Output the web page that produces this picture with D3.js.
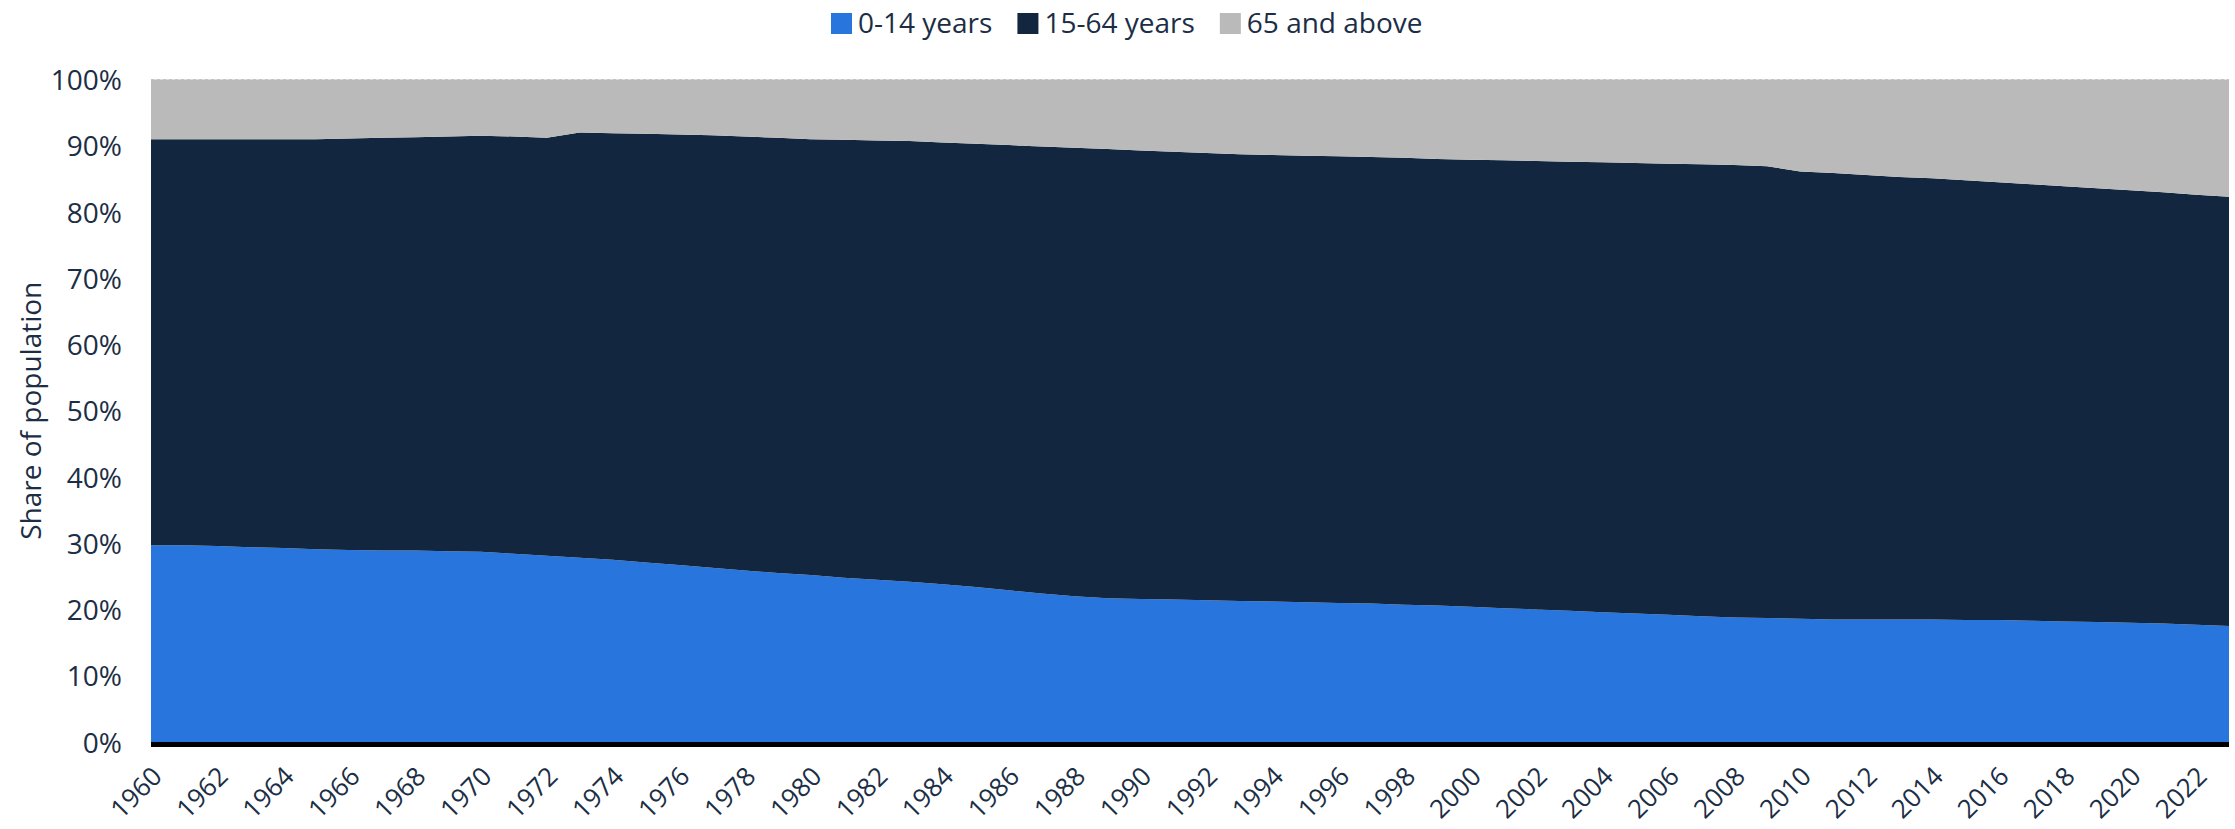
<!DOCTYPE html>
<html>
<head>
<meta charset="utf-8">
<script src="https://cdn.jsdelivr.net/npm/d3@7"></script>
<style>
  html, body { margin: 0; padding: 0; background: #ffffff; }
  svg text { font-family: "Open Sans", sans-serif; fill: #1b2e45; }
</style>
</head>
<body>
<svg id="chart" width="2235" height="829"></svg>
<script>
const years = d3.range(1960, 2024);
const age0to14 = [29.7, 29.7, 29.6, 29.4, 29.3, 29.1, 29.0, 28.9, 28.9, 28.8,
  28.7, 28.4, 28.1, 27.8, 27.5, 27.1, 26.7, 26.3, 25.9, 25.5,
  25.2, 24.8, 24.5, 24.2, 23.8, 23.4, 22.9, 22.4, 22.0, 21.7,
  21.6, 21.5, 21.4, 21.3, 21.2, 21.1, 21.0, 20.9, 20.7, 20.6,
  20.4, 20.2, 20.0, 19.8, 19.6, 19.4, 19.2, 19.0, 18.8, 18.7,
  18.6, 18.5, 18.5, 18.5, 18.5, 18.4, 18.4, 18.3, 18.2, 18.1,
  18.0, 17.9, 17.7, 17.5];
const age15to64 = [61.3, 61.3, 61.4, 61.6, 61.7, 61.9, 62.1, 62.3, 62.4, 62.6,
  62.8, 63.0, 63.1, 64.2, 64.4, 64.7, 65.0, 65.3, 65.5, 65.7,
  65.8, 66.1, 66.3, 66.5, 66.7, 66.9, 67.2, 67.5, 67.7, 67.8,
  67.7, 67.6, 67.5, 67.4, 67.4, 67.4, 67.4, 67.4, 67.5, 67.4,
  67.5, 67.6, 67.7, 67.8, 67.9, 68.0, 68.1, 68.2, 68.3, 68.2,
  67.5, 67.4, 67.1, 66.8, 66.6, 66.4, 66.1, 65.9, 65.7, 65.5,
  65.3, 65.1, 64.9, 64.8];
const age65plus = [9.0, 9.0, 9.0, 9.0, 9.0, 9.0, 8.9, 8.8, 8.7, 8.6,
  8.5, 8.6, 8.8, 8.0, 8.1, 8.2, 8.3, 8.4, 8.6, 8.8,
  9.0, 9.1, 9.2, 9.3, 9.5, 9.7, 9.9, 10.1, 10.3, 10.5,
  10.7, 10.9, 11.1, 11.3, 11.4, 11.5, 11.6, 11.7, 11.8, 12.0,
  12.1, 12.2, 12.3, 12.4, 12.5, 12.6, 12.7, 12.8, 12.9, 13.1,
  13.9, 14.1, 14.4, 14.7, 14.9, 15.2, 15.5, 15.8, 16.1, 16.4,
  16.7, 17.0, 17.4, 17.7];
const seriesNames = ["0-14 years", "15-64 years", "65 and above"];
const seriesColors = ["#2876dd", "#12273f", "#bababa"];
const yTicks = [0, 10, 20, 30, 40, 50, 60, 70, 80, 90, 100];
const xTickYears = d3.range(1960, 2023, 2);

const table = years.map((yr, i) => ({
  year: yr,
  "0-14 years": age0to14[i],
  "15-64 years": age15to64[i],
  "65 and above": age65plus[i]
}));

const svg = d3.select("#chart");
const plotLeft = 151, plotRight = 2229, plotTop = 79.5, plotBottom = 742;

const x = d3.scaleLinear().domain([1960, 2023]).range([plotLeft, plotRight]);
const y = d3.scaleLinear().domain([0, 100]).range([plotBottom, plotTop]);

const stack = d3.stack().keys(seriesNames).offset(d3.stackOffsetExpand);
const stacked = stack(table);

// gridlines
svg.append("g").selectAll("line").data(yTicks).join("line")
  .attr("x1", plotLeft).attr("x2", plotRight)
  .attr("y1", d => y(d)).attr("y2", d => y(d))
  .attr("stroke", "#cccccc").attr("stroke-width", 1)
  .attr("stroke-dasharray", "3,3");

const area = d3.area()
  .x(d => x(d.data.year))
  .y0(d => y(d[0] * 100))
  .y1(d => y(d[1] * 100));

svg.append("g").selectAll("path").data(stacked).join("path")
  .attr("d", area)
  .attr("fill", (d, i) => seriesColors[i]);

// baseline
svg.append("line")
  .attr("x1", plotLeft).attr("x2", plotRight)
  .attr("y1", y(0) + 2.5).attr("y2", y(0) + 2.5)
  .attr("stroke", "#000000").attr("stroke-width", 5);

// y axis
const yAxis = d3.axisLeft(y).tickValues(yTicks).tickFormat(d => d + "%").tickSize(0).tickPadding(29);
const gy = svg.append("g").attr("transform", `translate(${plotLeft},0)`).call(yAxis);
gy.select(".domain").remove();
gy.selectAll("text")
  .style("font-size", "28px")
  .style("font-family", "'Open Sans', sans-serif")
  .attr("fill", "#1b2e45")
  .attr("dy", "0.36em");

// x axis
const xAxis = d3.axisBottom(x).tickValues(xTickYears).tickFormat(d3.format("d")).tickSize(0);
const gx = svg.append("g").attr("transform", `translate(0,${plotBottom})`).call(xAxis);
gx.select(".domain").remove();
gx.selectAll("text")
  .style("font-size", "26px")
  .style("font-family", "'Open Sans', sans-serif")
  .attr("fill", "#1b2e45")
  .attr("text-anchor", "end")
  .attr("dy", null)
  .attr("y", 0)
  .attr("transform", "translate(12,36) rotate(-45)");

// y title
svg.append("text")
  .attr("transform", `translate(41,${(plotTop + plotBottom) / 2}) rotate(-90)`)
  .attr("text-anchor", "middle")
  .style("font-size", "28px")
  .text("Share of population");

// legend
const legend = svg.append("g");
let lx = 831;
seriesNames.forEach((name, i) => {
  legend.append("rect")
    .attr("x", lx).attr("y", 13).attr("width", 21).attr("height", 21)
    .attr("fill", seriesColors[i]);
  const t = legend.append("text")
    .attr("x", lx + 27).attr("y", 33)
    .style("font-size", "28px")
    .text(name);
  lx += 27 + t.node().getComputedTextLength() + 25;
});
</script>
</body>
</html>
